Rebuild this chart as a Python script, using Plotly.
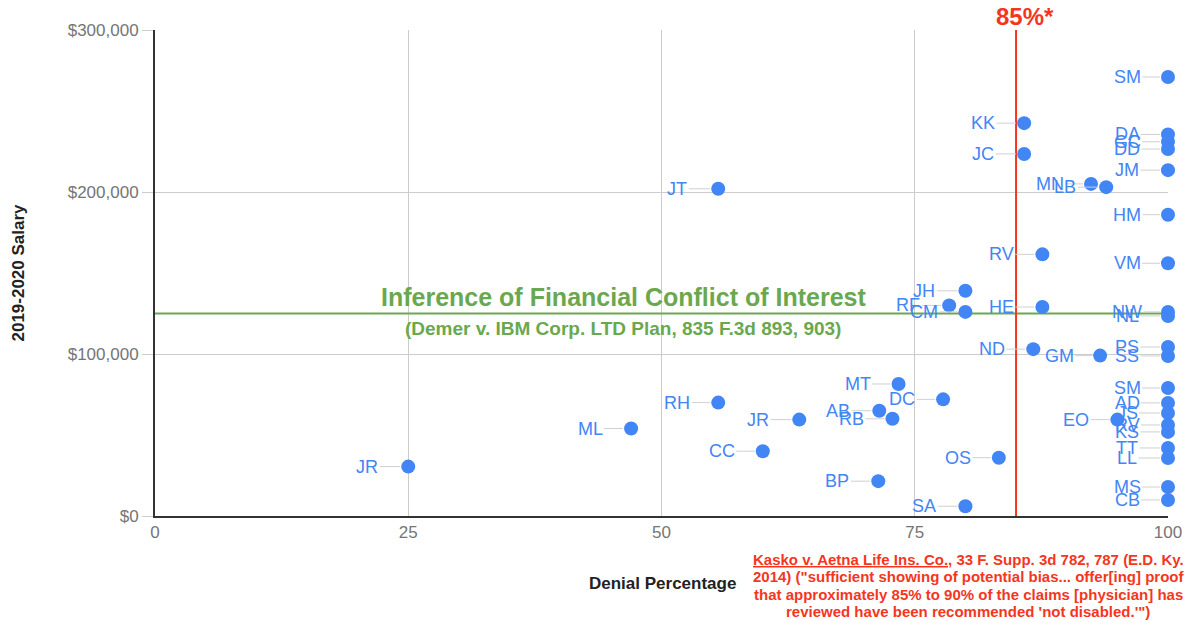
import plotly.graph_objects as go

names = ["SM", "KK", "DA", "GC", "DD", "JM", "JC", "MN", "LB", "JT", "HM", "RV", "VM",
         "JH", "RF", "CM", "HE", "NW", "NL", "ND", "GM", "PS", "SS", "SM", "MT", "AD",
         "JS", "RV", "KS", "TT", "LL", "EO", "DC", "RH", "AB", "RB", "JR", "ML", "CC",
         "JR", "OS", "BP", "SA", "MS", "CB"]
denial = [100, 85.8, 100, 100, 100, 100, 85.8, 92.4, 93.9, 55.6, 100, 87.6, 100,
          80.0, 78.4, 80.0, 87.6, 100, 100, 86.7, 93.3, 100, 100, 100, 73.4, 100,
          100, 100, 100, 100, 100, 95.0, 77.8, 55.6, 71.5, 72.8, 63.6, 47.0, 60.0,
          25.0, 83.3, 71.4, 80.0, 100, 100]
salary = [271000, 242500, 235500, 231000, 226500, 213500, 223500, 205000, 203000, 202000,
          186000, 161500, 156000, 139000, 130000, 126000, 129000, 126000, 123500, 103000,
          99000, 104300, 98800, 79000, 81500, 69800, 63600, 56200, 51900, 42000, 35800,
          59500, 72000, 70000, 65000, 60000, 59500, 54000, 40000, 30500, 36000, 21500,
          6000, 17900, 9900]

threshold_pct = 85
threshold_salary = 125000
x_ticks = [0, 25, 50, 75, 100]
y_ticks = [0, 100000, 200000, 300000]
y_tick_labels = ["$0", "$100,000", "$200,000", "$300,000"]

citation_lines = [
    "<u>Kasko v. Aetna Life Ins. Co.</u>, 33 F. Supp. 3d 782, 787 (E.D. Ky.",
    "2014) (\"sufficient showing of potential bias... offer[ing] proof",
    "that approximately 85% to 90% of the claims [physician] has",
    "reviewed have been recommended 'not disabled.'\")",
]

BLUE = "#4285F4"
RED = "#F4361E"
GREEN = "#6AA84F"
FONT = "Arial"

fig = go.Figure()

fig.add_trace(go.Scatter(x=[0, 100], y=[threshold_salary, threshold_salary], mode="lines",
                         line=dict(color=GREEN, width=2), hoverinfo="skip", showlegend=False))
fig.add_trace(go.Scatter(x=[threshold_pct, threshold_pct], y=[0, 300000], mode="lines",
                         line=dict(color=RED, width=2), hoverinfo="skip", showlegend=False))

fig.add_trace(go.Scatter(x=denial, y=salary, mode="markers", text=names,
                         marker=dict(color=BLUE, size=14), cliponaxis=False,
                         showlegend=False))

annotations = []
for n, xv, yv in zip(names, denial, salary):
    annotations.append(dict(x=xv, y=yv, text=n, showarrow=True, arrowhead=0, arrowwidth=1,
                            arrowcolor="#d0d0d0", ax=-41, ay=0, standoff=8,
                            font=dict(family=FONT, size=18, color=BLUE)))

annotations += [
    dict(x=threshold_pct, y=1, yref="paper", yanchor="bottom", xshift=9, yshift=-2,
         text="<b>85%*</b>", showarrow=False, font=dict(family=FONT, size=24, color=RED)),
    dict(x=46.2, y=threshold_salary, yanchor="bottom", yshift=1,
         text="<b>Inference of Financial Conflict of Interest</b>", showarrow=False,
         font=dict(family=FONT, size=25, color=GREEN)),
    dict(x=46.2, y=threshold_salary, yanchor="top", yshift=-2,
         text="<b>(Demer v. IBM Corp. LTD Plan, 835 F.3d 893, 903)</b>", showarrow=False,
         font=dict(family=FONT, size=19, color=GREEN)),
    dict(x=50.05, y=-0.138, yref="paper", yanchor="middle",
         text="<b>Denial Percentage</b>", showarrow=False,
         font=dict(family=FONT, size=17, color="#222222")),
]
for i, line in enumerate(citation_lines):
    annotations.append(dict(x=80.3, y=0, yref="paper", yanchor="middle", yshift=-43 - 17.5 * i,
                            text="<b>" + line + "</b>", showarrow=False,
                            font=dict(family=FONT, size=15, color=RED)))

fig.update_layout(
    width=1189, height=620,
    margin=dict(l=155, r=21, t=30, b=104),
    plot_bgcolor="white", paper_bgcolor="white",
    font=dict(family=FONT),
    annotations=annotations,
    hovermode="closest",
)
fig.update_xaxes(range=[0, 100], tickvals=x_ticks, showgrid=True, gridcolor="#cccccc",
                 gridwidth=1, zeroline=False, showline=True, linecolor="#333333", linewidth=2,
                 tickfont=dict(family=FONT, size=17, color="#757575"), ticks="",
                 automargin=False)
fig.update_yaxes(range=[0, 300000], tickvals=y_ticks, ticktext=y_tick_labels,
                 showgrid=True, gridcolor="#cccccc", gridwidth=1, zeroline=False,
                 showline=True, linecolor="#333333", linewidth=2,
                 ticks="outside", ticklen=11, tickcolor="#cccccc",
                 tickfont=dict(family=FONT, size=17, color="#757575"), automargin=False,
                 title=dict(text="<b>2019-2020 Salary</b>", standoff=39,
                            font=dict(family=FONT, size=17, color="#222222")))

fig.write_html("out.html", config={"displayModeBar": False})
with open("out.html", "r", encoding="utf-8") as f:
    html = f.read()
html = html.replace("<head>", "<head><style>html,body{margin:0;padding:0;overflow:hidden}</style>", 1)
with open("out.html", "w", encoding="utf-8") as f:
    f.write(html)
